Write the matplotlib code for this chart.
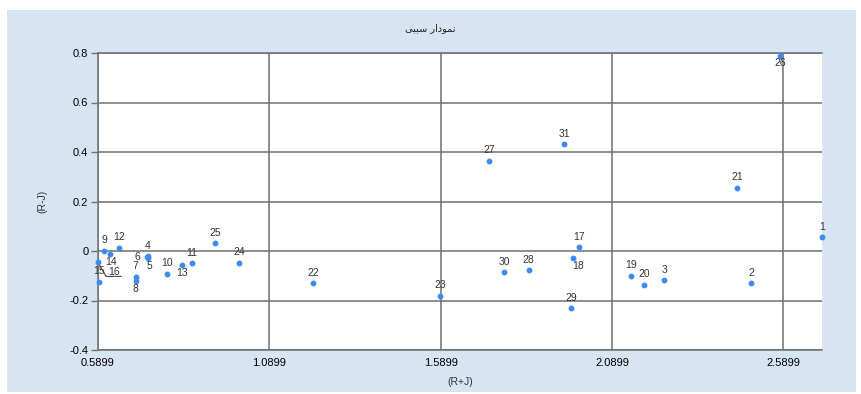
import matplotlib
matplotlib.use("Agg")
from matplotlib import pyplot as plt
from matplotlib.patches import Rectangle
from matplotlib.lines import Line2D

# point ids and coordinates
ids = ["1", "2", "3", "4", "5", "6", "7", "8", "9", "10",
       "11", "12", "13", "14", "15", "16", "17", "18", "19", "20",
       "21", "22", "23", "24", "25", "26", "27", "28", "29", "30", "31"]
rj_sum = [2.703, 2.496, 2.242, 0.735, 0.735, 0.734, 0.700, 0.700, 0.608, 0.790,
          0.864, 0.651, 0.834, 0.625, 0.594, 0.590, 1.995, 1.975, 2.145, 2.184,
          2.456, 1.217, 1.588, 1.002, 0.931, 2.581, 1.732, 1.847, 1.971, 1.775, 1.951]
rj_diff = [0.056, -0.130, -0.117, -0.021, -0.027, -0.024, -0.104, -0.120, 0.001, -0.092,
           -0.050, 0.013, -0.057, -0.012, -0.124, -0.046, 0.016, -0.027, -0.100, -0.137,
           0.255, -0.130, -0.180, -0.047, 0.031, 0.787, 0.365, -0.077, -0.230, -0.085, 0.431]

x_ticks = [0.5899, 1.0899, 1.5899, 2.0899, 2.5899]
y_ticks = [-0.4, -0.2, 0, 0.2, 0.4, 0.6, 0.8]

# title "نمودار سببی" in presentation forms (no shaping engine in matplotlib)
title = "\uFBFD\uFE92\uFE92\uFEB3 \uFEAD\uFE8D\uFEA9\uFEEE\uFEE4\uFEE7"

bg = "#d7e4f2"
grid_col = "#6f6f6f"

plt.rcParams["font.family"] = ["Liberation Sans", "DejaVu Sans"]

fig = plt.figure(figsize=(8.61, 3.94), dpi=100, facecolor="white")
# blue panel behind the chart, thin white border round it
fig.patches.append(Rectangle((7 / 861, 2 / 394), 849 / 861, 382 / 394,
                             transform=fig.transFigure, facecolor=bg,
                             edgecolor="none", zorder=-10))

ax = fig.add_axes([98 / 861, 1 - 350 / 394, 724 / 861, 297 / 394])
ax.set_facecolor("white")

ax.set_xlim(0.5899, 2.703)
ax.set_ylim(-0.4, 0.8)
ax.set_xticks(x_ticks)
ax.set_xticklabels(["%.4f" % t for t in x_ticks])
ax.set_yticks(y_ticks)
ax.set_yticklabels(["0" if t == 0 else "%g" % t for t in y_ticks])
ax.tick_params(labelsize=8, length=5, width=1, color=grid_col, pad=2)
ax.tick_params(axis="x", length=0, pad=6)

ax.grid(True, color=grid_col, linewidth=1.1)
ax.set_axisbelow(True)
ax.spines["right"].set_visible(False)
for s in ["left", "bottom", "top"]:
    ax.spines[s].set_color(grid_col)
    ax.spines[s].set_linewidth(1.1)

ax.plot(rj_sum, rj_diff, "o", color="#3d8bf2", markersize=3.2, clip_on=False, zorder=3)

# label placement (offset points); default is just above the point
offsets = {"5": (1, -6), "8": (0, -6), "13": (0, -6), "14": (1, -6),
           "18": (4, -6), "26": (0, -5), "6": (-7, 0), "16": (11.5, -7)}
for name, xv, yv in zip(ids, rj_sum, rj_diff):
    off = offsets.get(name, (0, 7.5))
    ax.annotate(name, (xv, yv), xytext=off, textcoords="offset points",
                ha="center", va="center", fontsize=7.5, color="#333333",
                annotation_clip=False)
    if name == "16":
        # callout line under the label
        fig.canvas.draw()
        px, py = ax.transData.transform((xv, yv))
        ax.add_line(Line2D([px, px + 8, px + 23], [py, py - 14, py - 14],
                           transform=None, color="#444444", lw=0.8,
                           clip_on=False))

ax.set_xlabel("(R+J)", fontsize=7.5, color="#333333", labelpad=6)
ax.set_ylabel("(R-J)", fontsize=7.5, color="#333333", labelpad=16)
fig.text(0.5, 1 - 28 / 394, title, ha="center", va="center", fontsize=7,
         family=["DejaVu Sans"], color="#222222")

fig.savefig("out.png", dpi=100, facecolor="white")
